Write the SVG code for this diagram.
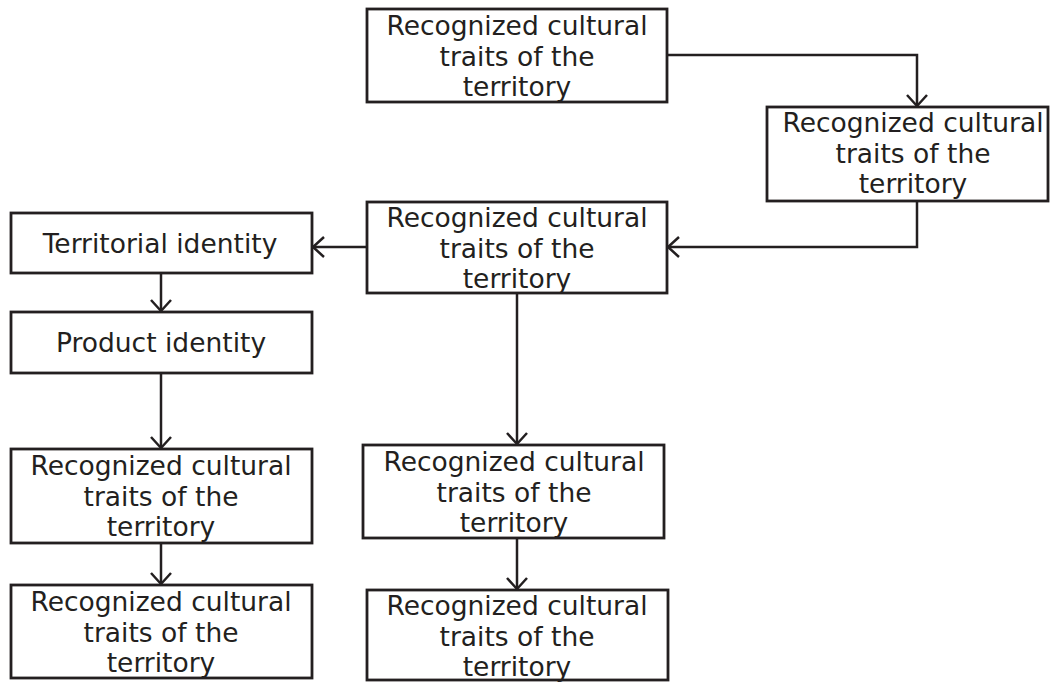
<svg xmlns="http://www.w3.org/2000/svg" width="1057" height="683" viewBox="0 0 1057 683">
  <style>
    .box { fill: #ffffff; stroke: #231f20; stroke-width: 2.8; }
    .lbl { font-family: "DejaVu Sans", Verdana, sans-serif; font-size: 26.5px; fill: #231f20; text-anchor: middle; }
    .link { fill: none; stroke: #231f20; stroke-width: 2.5; marker-end: url(#arrow); }
  </style>
  <defs>
    <marker id="arrow" markerUnits="userSpaceOnUse" markerWidth="30" markerHeight="30" refX="0" refY="0" orient="auto" viewBox="-15 -15 30 30" overflow="visible">
      <path d="M-11,-10 L0,0 L-11,10" fill="none" stroke="#231f20" stroke-width="2.5"/>
    </marker>
  </defs>
  <rect width="1057" height="683" fill="#ffffff"/>

  <g id="connectors">
    <path class="link" d="M667,55 H917 V106"/>
    <path class="link" d="M917,201 V247 H668"/>
    <path class="link" d="M367,247 H313"/>
    <path class="link" d="M161,273 V311"/>
    <path class="link" d="M161,373 V448"/>
    <path class="link" d="M161,543 V584"/>
    <path class="link" d="M517,293 V444"/>
    <path class="link" d="M517,538 V589"/>
  </g>

  <g id="node-a">
    <rect class="box" x="367" y="9" width="300" height="93"/>
    <text class="lbl" x="517" y="35">Recognized cultural</text>
    <text class="lbl" x="517" y="66">traits of the</text>
    <text class="lbl" x="517" y="96">territory</text>
  </g>

  <g id="node-b">
    <rect class="box" x="767" y="107" width="281" height="94"/>
    <text class="lbl" x="913" y="132">Recognized cultural</text>
    <text class="lbl" x="913" y="163">traits of the</text>
    <text class="lbl" x="913" y="193">territory</text>
  </g>

  <g id="node-c">
    <rect class="box" x="367" y="202" width="300" height="91"/>
    <text class="lbl" x="517" y="227">Recognized cultural</text>
    <text class="lbl" x="517" y="258">traits of the</text>
    <text class="lbl" x="517" y="288">territory</text>
  </g>

  <g id="node-territorial-identity">
    <rect class="box" x="11" y="213" width="301" height="60"/>
    <text class="lbl" x="160" y="253">Territorial identity</text>
  </g>

  <g id="node-product-identity">
    <rect class="box" x="11" y="312" width="301" height="61"/>
    <text class="lbl" x="161" y="352">Product identity</text>
  </g>

  <g id="node-f">
    <rect class="box" x="11" y="449" width="301" height="94"/>
    <text class="lbl" x="161" y="475">Recognized cultural</text>
    <text class="lbl" x="161" y="506">traits of the</text>
    <text class="lbl" x="161" y="536">territory</text>
  </g>

  <g id="node-g">
    <rect class="box" x="11" y="585" width="301" height="93"/>
    <text class="lbl" x="161" y="611">Recognized cultural</text>
    <text class="lbl" x="161" y="642">traits of the</text>
    <text class="lbl" x="161" y="672">territory</text>
  </g>

  <g id="node-h">
    <rect class="box" x="363" y="445" width="301" height="93"/>
    <text class="lbl" x="514" y="471">Recognized cultural</text>
    <text class="lbl" x="514" y="502">traits of the</text>
    <text class="lbl" x="514" y="532">territory</text>
  </g>

  <g id="node-i">
    <rect class="box" x="367" y="590" width="301" height="90"/>
    <text class="lbl" x="517" y="615">Recognized cultural</text>
    <text class="lbl" x="517" y="646">traits of the</text>
    <text class="lbl" x="517" y="676">territory</text>
  </g>
</svg>
